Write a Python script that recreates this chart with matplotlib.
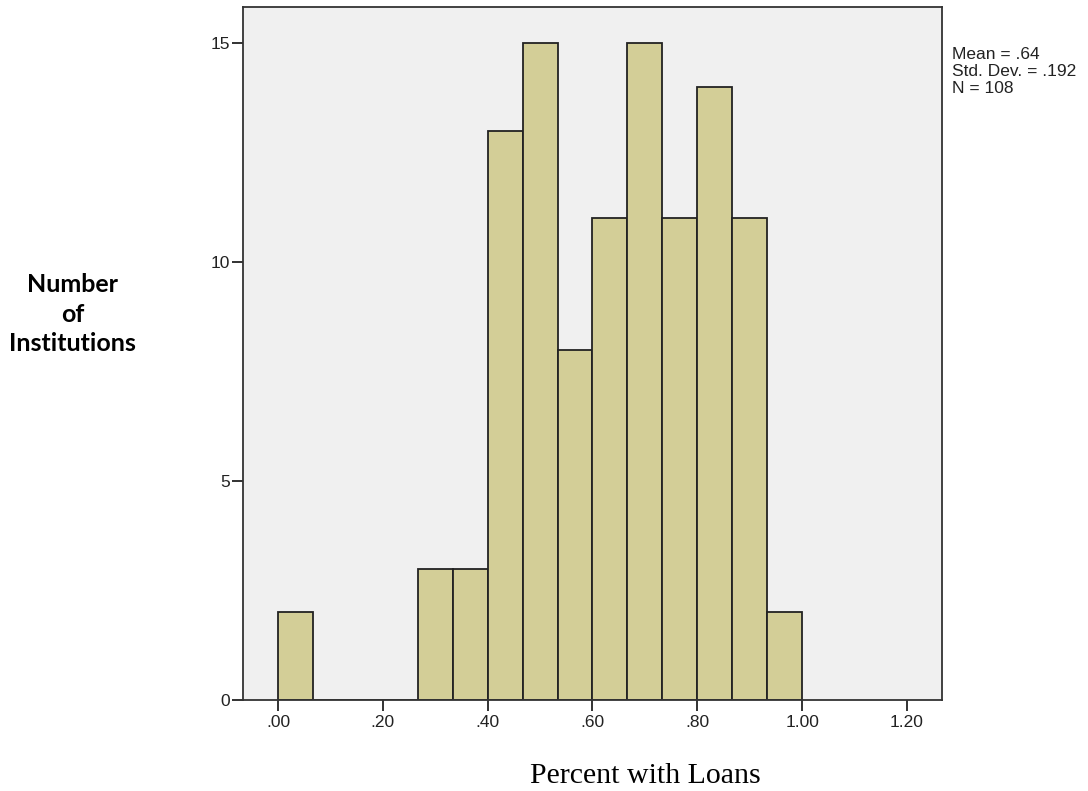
import numpy as np
import matplotlib.pyplot as plt

# histogram bins (width 1/15) and counts
bin_edges = np.linspace(0, 1, 16)
counts = [2, 0, 0, 0, 3, 3, 13, 15, 8, 11, 15, 11, 14, 11, 2]
x_ticks = [0.0, 0.2, 0.4, 0.6, 0.8, 1.0, 1.2]
x_labels = ['.00', '.20', '.40', '.60', '.80', '1.00', '1.20']
y_ticks = [0, 5, 10, 15]
stats = ['Mean = .64', 'Std. Dev. = .192', 'N = 108']


def main():
    fig = plt.figure(figsize=(10.88, 7.91), dpi=100)
    ax = fig.add_axes([0.2233, 0.115, 0.6425, 0.876])
    ax.set_facecolor('#f0f0f0')

    ax.bar(bin_edges[:-1], counts, width=np.diff(bin_edges), align='edge',
           color='#d3ce97', edgecolor='#222222', linewidth=1.3)

    ax.set_xlim(-0.067, 1.267)
    ax.set_ylim(0, 15.82)
    ax.set_xticks(x_ticks)
    ax.set_xticklabels(x_labels, fontfamily='Liberation Sans', fontsize=12.5)
    ax.set_yticks(y_ticks)
    ax.set_yticklabels([str(t) for t in y_ticks], fontfamily='Liberation Sans', fontsize=12.5)
    ax.tick_params(direction='out', length=8, width=1.3, color='#222222',
                   labelcolor='#222222')
    ax.tick_params(axis='x', pad=3)
    ax.tick_params(axis='y', pad=1.5)
    for s in ax.spines.values():
        s.set_color('#333333')
        s.set_linewidth(1.3)

    fig.text(0.875, 0.941, '\n'.join(stats), fontfamily='Liberation Sans',
             fontsize=12.5, va='top', ha='left', color='#222222', linespacing=1.2)

    fig.text(0.067, 0.603, 'Number\nof\nInstitutions', fontfamily='Lato',
             fontweight='bold', fontsize=18, ha='center', va='center',
             linespacing=1.35)
    fig.text(0.593, 0.01, 'Percent with Loans', fontfamily='Liberation Serif',
             fontsize=21.5, ha='center', va='baseline')

    fig.savefig('out.png', dpi=100)


if __name__ == '__main__':
    main()
